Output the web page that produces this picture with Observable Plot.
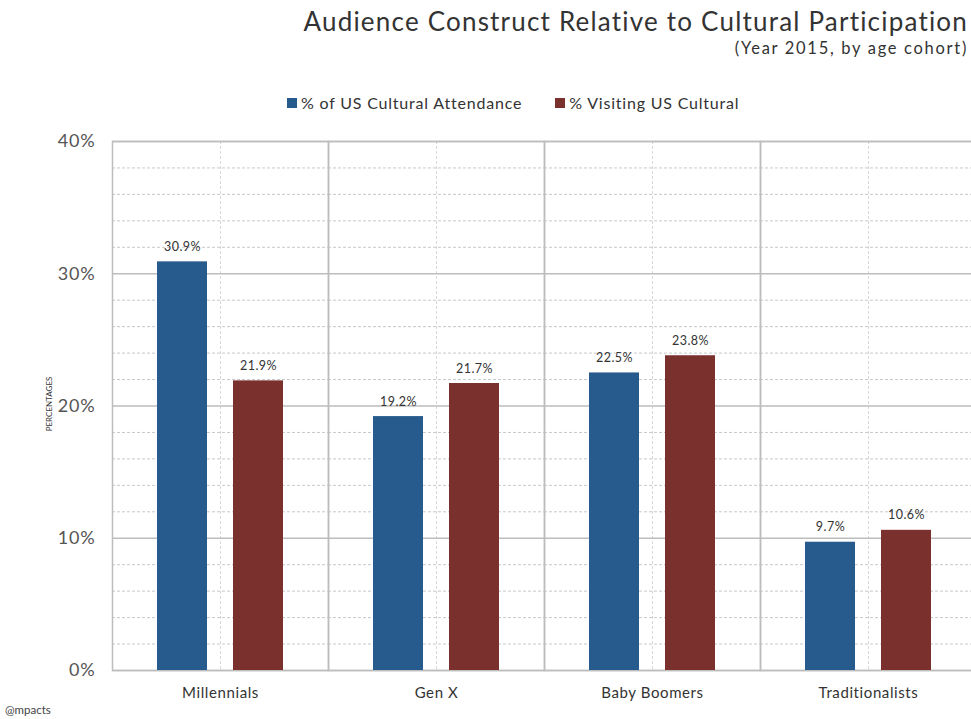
<!DOCTYPE html>
<html>
<head>
<meta charset="utf-8">
<script src="https://cdn.jsdelivr.net/npm/d3@7"></script>
<script src="https://cdn.jsdelivr.net/npm/@observablehq/plot@0.6"></script>
<style>
  html, body { margin: 0; padding: 0; background: #fff; overflow: hidden; width: 971px; height: 719px; }
  body { font-family: Lato, "Open Sans", sans-serif; color: #333; position: relative; }
  #header { position: relative; height: 125px; }
  #title { position: absolute; right: 3px; top: 5px; font-size: 26px; letter-spacing: 1.2px; font-weight: 400; color: #333; white-space: nowrap; }
  #subtitle { position: absolute; right: 3px; top: 38px; font-size: 16.5px; letter-spacing: 1.7px; color: #333; white-space: nowrap; }
  #legend { position: absolute; left: 287px; top: 93px; font-size: 16px; letter-spacing: 0.8px; color: #333; display: flex; align-items: center; white-space: nowrap; }
  #legend .sw { display: inline-block; width: 10px; height: 10px; margin-right: 4px; }
  #legend .item { display: flex; align-items: center; }
  #ylabel { position: absolute; left: 49px; top: 404px; transform: translate(-50%, -50%) rotate(-90deg); font-size: 8px; color: #333; white-space: nowrap; }
  #caption { position: absolute; left: 5px; top: 703px; font-size: 11.5px; color: #444; }
  #chart svg { display: block; overflow: visible; max-width: none !important; }
</style>
</head>
<body>
<div id="header">
  <div id="title"></div>
  <div id="subtitle"></div>
  <div id="legend"></div>
</div>
<div id="chart"></div>
<div id="ylabel"></div>
<div id="caption"></div>
<script>
const titleText = "Audience Construct Relative to Cultural Participation";
const subtitleText = "(Year 2015, by age cohort)";
const captionText = "@mpacts";
const yAxisLabel = "PERCENTAGES";
const categories = ["Millennials", "Gen X", "Baby Boomers", "Traditionalists"];
const seriesNames = ["% of US Cultural Attendance", "% Visiting US Cultural"];
const attendance = [30.9, 19.2, 22.5, 9.7];
const visiting = [21.9, 21.7, 23.8, 10.6];
const seriesColors = ["#285b8d", "#7a302d"];
const yTicks = [0, 10, 20, 30, 40];

document.getElementById("title").textContent = titleText;
document.getElementById("subtitle").textContent = subtitleText;
document.getElementById("caption").textContent = captionText;
document.getElementById("ylabel").textContent = yAxisLabel;

const legend = document.getElementById("legend");
seriesNames.forEach((s, i) => {
  const item = document.createElement("span");
  item.className = "item";
  item.style.marginRight = i === 0 ? "33px" : "0";
  item.innerHTML = `<span class="sw" style="background:${seriesColors[i]}"></span>`;
  item.appendChild(document.createTextNode(s));
  legend.appendChild(item);
});

const data = [];
categories.forEach((c, i) => {
  data.push({category: c, series: seriesNames[0], value: attendance[i]});
  data.push({category: c, series: seriesNames[1], value: visiting[i]});
});

const minorTicks = d3.range(0, 41, 2).filter(d => d % 10 !== 0);

const chart = Plot.plot({
  width: 976,
  height: 579,
  marginLeft: 112,
  marginRight: 0,
  marginTop: 16,
  marginBottom: 34,
  style: {fontFamily: "Lato, 'Open Sans', sans-serif", fontSize: "15px", color: "#333", background: "transparent", maxWidth: "none"},
  fx: {domain: categories, padding: 0, label: null, axis: "bottom", tickSize: 0, tickPadding: 17},
  x: {domain: seriesNames, paddingInner: 0.342, paddingOuter: 0.592, axis: null},
  y: {domain: [0, 40], ticks: yTicks, tickFormat: d => d + "%", tickSize: 0, tickPadding: 17, label: null},
  color: {domain: seriesNames, range: seriesColors},
  marks: [
    Plot.ruleY(minorTicks, {stroke: "#c8c8c8", strokeWidth: 1, strokeDasharray: "3,2"}),
    Plot.ruleX([seriesNames[0]], {x: null, stroke: "#d8d8d8", strokeWidth: 1, strokeDasharray: "3,2"}),
    Plot.ruleY(yTicks, {stroke: "#bdbdbd", strokeWidth: 1.5}),
    Plot.frame({stroke: "#bdbdbd", strokeWidth: 1.5}),
    Plot.barY(data, {fx: "category", x: "series", y: "value", fill: "series"}),
    Plot.text(data, {fx: "category", x: "series", y: "value", text: d => d.value.toFixed(1) + "%", dy: -15, fontSize: 12.5, fill: "#333"})
  ]
});
chart.style.maxWidth = "none";
chart.querySelectorAll("[aria-label='fx-axis'] text, [aria-label='fx-axis tick label'] text").forEach(t => { t.style.letterSpacing = "0.6px"; });
chart.querySelectorAll("[aria-label='y-axis'] text, [aria-label='y-axis tick label'] text").forEach(t => { t.style.fontSize = "18px"; t.style.letterSpacing = "0.8px"; t.setAttribute("fill", "#555"); });
chart.querySelectorAll("[aria-label='text'] text").forEach(t => { t.style.letterSpacing = "0.5px"; });
document.getElementById("chart").appendChild(chart);
</script>
</body>
</html>
